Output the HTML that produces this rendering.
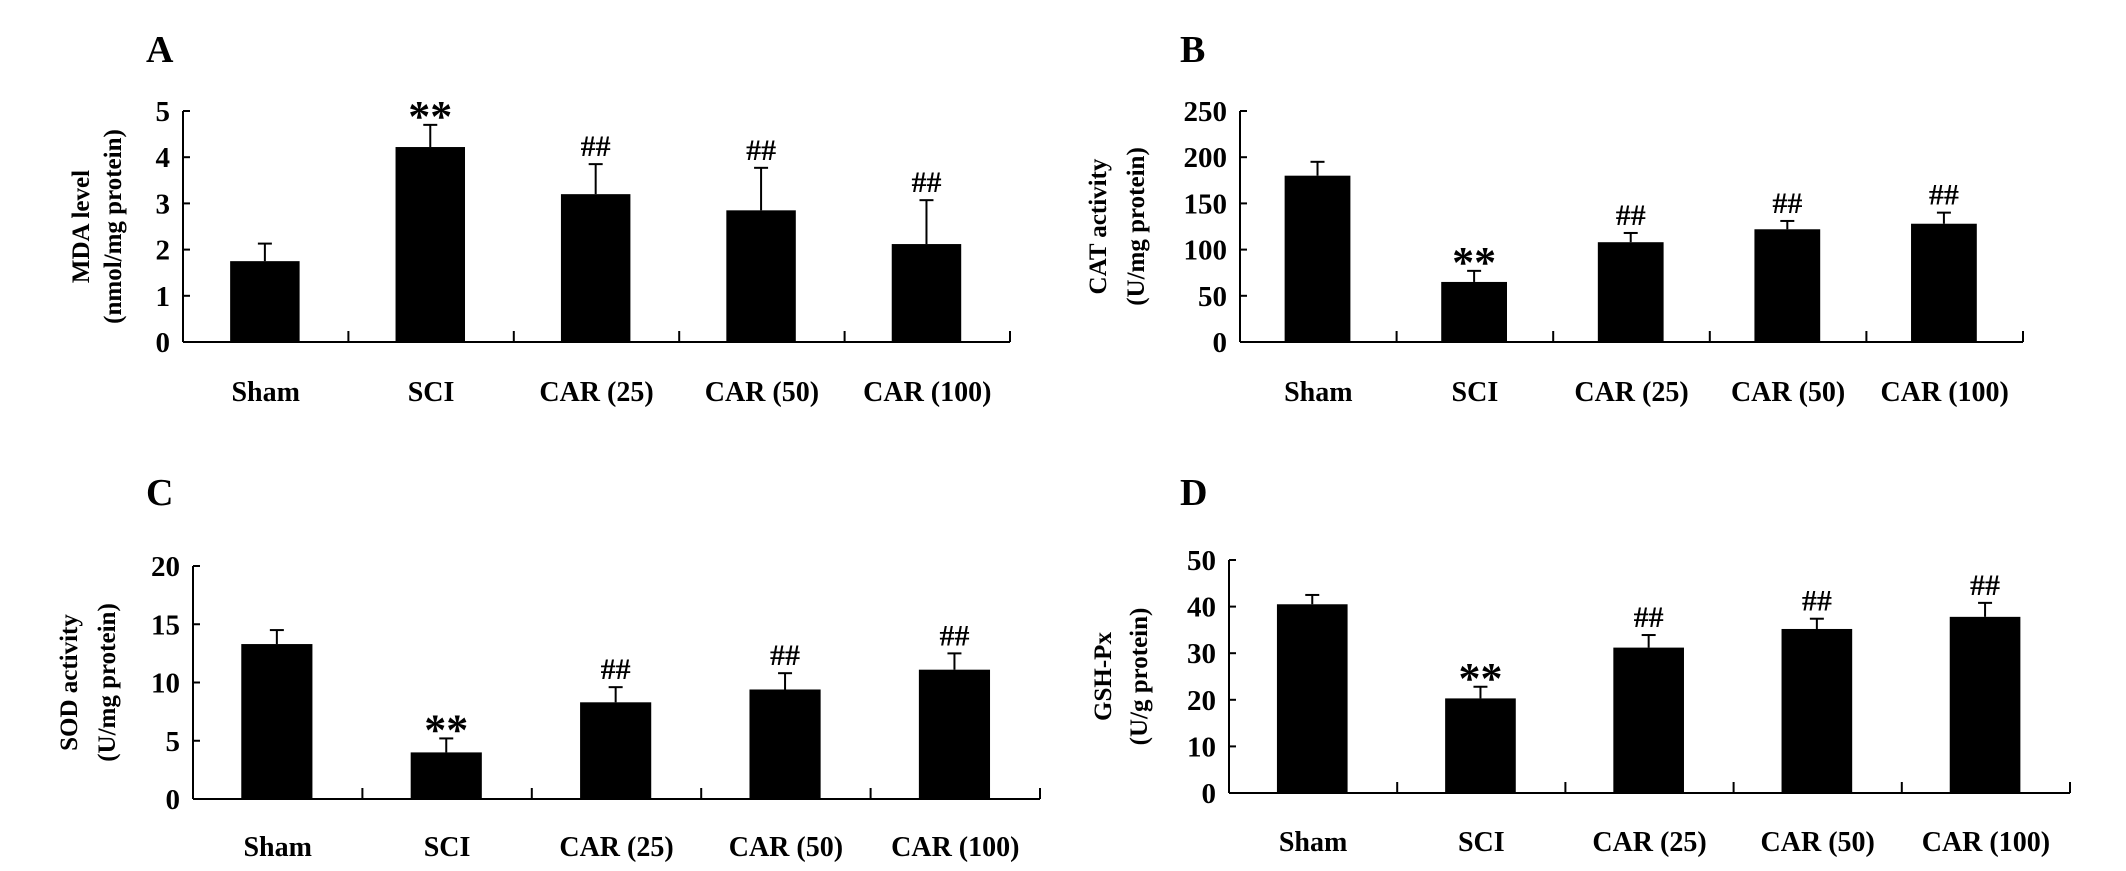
<!DOCTYPE html>
<html><head><meta charset="utf-8"><style>
html,body{margin:0;padding:0;background:#fff}
svg{display:block}
text{font-family:"Liberation Serif",serif;font-weight:bold;fill:#000}
</style></head><body>
<svg id="fig" width="2126" height="871" viewBox="0 0 2126 871" xmlns="http://www.w3.org/2000/svg"></svg>
<script>
const categories = ["Sham","SCI","CAR (25)","CAR (50)","CAR (100)"];
const mdaValues = [1.75,4.22,3.2,2.85,2.12];
const mdaErrors = [0.38,0.48,0.65,0.92,0.95];
const catValues = [180,65,108,122,128];
const catErrors = [15,12,10,9,12];
const sodValues = [13.3,4.0,8.3,9.4,11.1];
const sodErrors = [1.2,1.2,1.3,1.4,1.4];
const gshValues = [40.5,20.3,31.2,35.2,37.8];
const gshErrors = [2.0,2.5,2.7,2.2,3.0];
const marks = ["","**","##","##","##"];
const mdaTicks = [0,1,2,3,4,5];
const catTicks = [0,50,100,150,200,250];
const sodTicks = [0,5,10,15,20];
const gshTicks = [0,10,20,30,40,50];

const NS="http://www.w3.org/2000/svg";
const svg=document.getElementById('fig');
function mk(tag,attrs,parent){const e=document.createElementNS(NS,tag);for(const k in attrs)e.setAttribute(k,attrs[k]);(parent||svg).appendChild(e);return e;}

function panel(cfg){
  const g=mk('g',{});
  
  
  const {x0,x1,y0,yTop,max}=cfg;
  const y=v=>y0-(v/max)*(y0-yTop);
  const n=categories.length, w=(x1-x0)/n;
  const bx=i=>x0+w*i+w*0.285;
  const bw=w*0.42;
  const lt=mk('text',{x:cfg.lx,y:cfg.ly,'font-size':38},g);lt.textContent=cfg.letter;
  
  
  const ax=mk('line',{x1:x0,y1:yTop,x2:x0,y2:y0,stroke:'#000','stroke-width':2},g);
  
  
  const xa=mk('line',{x1:x0,y1:y0,x2:x1,y2:y0,stroke:'#000','stroke-width':2},g);
  
  
  cfg.ticks.forEach(t=>{
    mk('line',{x1:x0,y1:y(t),x2:x0+7,y2:y(t),stroke:'#000','stroke-width':2},g);
    const tt=mk('text',{x:x0-13,y:y(t)+10,'font-size':29,'text-anchor':'end'},g);tt.textContent=t;
    
    
  });
  for(let i=1;i<=n;i++){mk('line',{x1:x0+w*i,y1:y0,x2:x0+w*i,y2:y0-11,stroke:'#000','stroke-width':2},g);}
  cfg.values.forEach((v,i)=>{
    const e=cfg.errors[i], cx=bx(i)+bw/2, top=y(v+e);
    mk('line',{x1:cx,y1:y(v),x2:cx,y2:top,stroke:'#000','stroke-width':2},g);
    mk('line',{x1:cx-7,y1:top,x2:cx+7,y2:top,stroke:'#000','stroke-width':2},g);
    const r=mk('rect',{x:bx(i),y:y(v),width:bw,height:y0-y(v),fill:'#000'},g);
    
    
    if(cfg.marks[i]){
      const star=cfg.marks[i]==='**';
      const mt=mk('text',{x:cx,y:top-(star?-6:8),'font-size':star?44:30,'text-anchor':'middle'},g);mt.textContent=cfg.marks[i];
      
      
    }
    const xl=mk('text',{x:x0+w*i+w*0.5,y:cfg.labY,'font-size':28,'text-anchor':'middle','textLength':categories[i].length>3?(categories[i].length>8?135:120):undefined},g);
    xl.removeAttribute('textLength');
    xl.textContent=categories[i];
    
    
  });
  const cy=(y0+yTop)/2;
  cfg.title.forEach((t,k)=>{
    const tx=cfg.tx+k*cfg.tgap;
    const tt=mk('text',{x:tx,y:cy,'font-size':25,'text-anchor':'middle',transform:`rotate(-90 ${tx} ${cy})`},g);tt.textContent=t;
    
    
  });
}
panel({name:'panel-a-mda',letter:'A',lx:146,ly:62,x0:183,x1:1010,y0:342,yTop:111,max:5,ticks:mdaTicks,values:mdaValues,errors:mdaErrors,marks:marks,labY:401,title:['MDA level','(nmol/mg protein)'],tx:89,tgap:32});
panel({name:'panel-b-cat',letter:'B',lx:1180,ly:62,x0:1240,x1:2023,y0:342,yTop:111,max:250,ticks:catTicks,values:catValues,errors:catErrors,marks:marks,labY:401,title:['CAT activity','(U/mg  protein)'],tx:1106,tgap:38});
panel({name:'panel-c-sod',letter:'C',lx:146,ly:505,x0:193,x1:1040,y0:799,yTop:566,max:20,ticks:sodTicks,values:sodValues,errors:sodErrors,marks:marks,labY:856,title:['SOD activity','(U/mg protein)'],tx:77,tgap:38});
panel({name:'panel-d-gsh',letter:'D',lx:1180,ly:505,x0:1229,x1:2070,y0:793,yTop:560,max:50,ticks:gshTicks,values:gshValues,errors:gshErrors,marks:marks,labY:851,title:['GSH-Px','(U/g protein)'],tx:1111,tgap:36});
</script>
</body></html>
